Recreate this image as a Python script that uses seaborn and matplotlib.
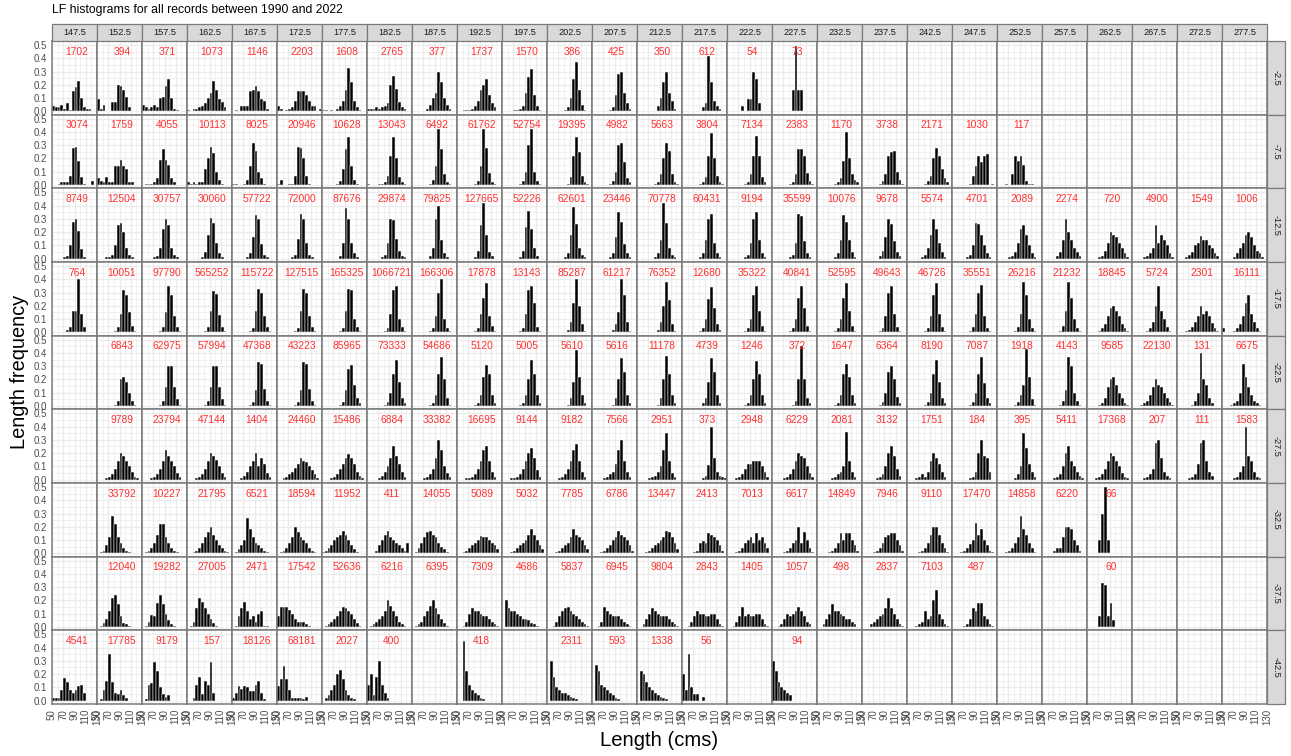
import numpy as np
import pandas as pd
import matplotlib
matplotlib.use("Agg")
import matplotlib.pyplot as plt
from matplotlib.patches import Rectangle
import seaborn as sns

# Facet layout: longitude columns, latitude rows
lon_labels = ["147.5", "152.5", "157.5", "162.5", "167.5", "172.5", "177.5", "182.5",
              "187.5", "192.5", "197.5", "202.5", "207.5", "212.5", "217.5", "222.5",
              "227.5", "232.5", "237.5", "242.5", "247.5", "252.5", "257.5", "262.5",
              "267.5", "272.5", "277.5"]
lat_labels = ["-2.5", "-7.5", "-12.5", "-17.5", "-22.5", "-27.5", "-32.5", "-37.5", "-42.5"]

# Length bins (cm): 5 cm classes from 50 to 130
bin_lo, bin_hi, bin_w = 50, 130, 5
bin_mids = np.arange(bin_lo, bin_hi, bin_w) + bin_w / 2

# Per cell: (number of records, relative frequency per length class in hundredths)
lf_m2_5 = {
    "147.5": (1702, "4 3 3 5 2 6 1 15 18 23 10 3 2 2 0 0"),
    "152.5": (394, "9 2 5 0 0 7 7 20 19 16 11 3 0 0 0 0"),
    "157.5": (371, "5 3 2 3 5 3 10 11 19 24 10 2 1 0 0 0"),
    "162.5": (1073, "1 0 2 2 3 4 6 10 14 23 16 9 7 3 0 0"),
    "167.5": (1146, "0 1 0 4 4 4 15 16 19 15 9 8 2 0 0 0"),
    "172.5": (2203, "4 2 0 1 2 3 8 15 15 15 12 8 4 4 0 2"),
    "177.5": (1608, "1 1 0 1 0 2 4 8 16 33 22 8 3 1 0 0"),
    "182.5": (2765, "2 2 2 3 2 3 4 6 20 27 17 7 3 2 0 0"),
    "187.5": (377, "0 0 0 0 0 2 5 10 14 30 22 10 5 2 0 0"),
    "192.5": (1737, "0 0 1 1 1 2 4 8 16 20 24 12 6 3 0 0"),
    "197.5": (1570, "0 0 0 0 1 1 2 4 14 26 32 12 4 1 0 0"),
    "202.5": (386, "0 0 0 0 0 0 1 3 10 24 37 16 5 1 0 0"),
    "207.5": (425, "0 0 0 0 0 0 1 3 12 28 30 14 6 2 0 0"),
    "212.5": (350, "0 0 0 0 0 0 0 4 10 22 30 14 8 2 0 0"),
    "217.5": (612, "0 0 0 0 0 0 0 3 6 42 22 8 4 2 0 0"),
    "222.5": (54, "0 0 0 0 0 4 0 9 9 30 24 6 0 0 0 0"),
    "227.5": (73, "0 0 0 0 0 0 0 16 49 16 16 0 0 0 0 0"),
}
lf_m7_5 = {
    "147.5": (3074, "0 0 1 2 2 2 7 28 29 18 6 1 0 0 3 0"),
    "152.5": (1759, "5 3 2 6 2 2 14 14 19 14 12 2 2 0 0 0"),
    "157.5": (4055, "0 1 1 1 2 5 19 27 19 15 5 2 0 0 0 0"),
    "162.5": (10113, "2 1 2 1 2 2 12 20 29 24 10 4 1 0 0 0"),
    "167.5": (8025, "1 1 0 0 1 4 14 32 26 10 5 1 0 0 0 0"),
    "172.5": (20946, "1 4 0 0 1 1 7 29 28 20 7 1 0 0 0 0"),
    "177.5": (10628, "0 0 0 0 0 1 3 12 27 36 14 4 1 0 0 0"),
    "182.5": (13043, "1 0 0 0 1 1 2 7 22 36 20 6 2 1 0 0"),
    "187.5": (6492, "0 0 0 0 0 0 1 4 14 42 27 8 2 1 0 0"),
    "192.5": (61762, "0 0 0 0 0 0 1 3 14 42 28 9 2 1 0 0"),
    "197.5": (52754, "0 0 0 0 0 0 1 3 10 30 42 10 3 1 0 0"),
    "202.5": (19395, "0 0 0 0 0 0 0 1 6 22 36 25 7 2 1 0"),
    "207.5": (4982, "0 0 0 0 0 0 1 3 10 30 32 17 5 2 0 0"),
    "212.5": (5663, "0 0 0 0 0 0 1 2 8 20 32 26 8 2 1 0"),
    "217.5": (3804, "0 0 0 0 0 0 1 2 6 22 39 20 7 2 1 0"),
    "222.5": (7134, "0 0 0 0 0 0 1 2 8 22 37 22 6 2 0 0"),
    "227.5": (2383, "0 0 0 0 0 0 1 2 8 27 27 22 9 3 1 0"),
    "232.5": (1170, "0 0 0 0 0 0 1 2 5 18 40 20 8 4 2 0"),
    "237.5": (3738, "0 0 0 0 0 0 1 3 8 22 25 26 10 4 1 0"),
    "242.5": (2171, "0 0 0 0 0 0 1 3 7 20 28 22 12 5 2 0"),
    "247.5": (1030, "0 0 0 0 0 0 1 7 14 22 17 22 23 0 1 0"),
    "252.5": (117, "0 0 0 1 0 8 22 18 22 15 3 1 1 0 0 0"),
}
lf_m12_5 = {
    "147.5": (8749, "0 0 0 0 1 2 10 28 30 21 7 1 0 0 0 0"),
    "152.5": (12504, "0 0 0 1 1 3 10 25 27 20 8 3 1 0 0 0"),
    "157.5": (30757, "0 0 0 0 1 2 8 22 30 25 8 3 1 0 0 0"),
    "162.5": (30060, "0 0 0 0 0 1 5 18 31 27 12 4 1 0 0 0"),
    "167.5": (57722, "0 0 0 0 0 1 4 16 33 30 11 3 1 0 0 0"),
    "172.5": (72000, "0 0 0 0 0 1 3 15 34 30 12 3 1 0 0 0"),
    "177.5": (87676, "0 0 0 0 0 0 2 12 38 30 12 4 1 0 0 0"),
    "182.5": (29874, "0 0 0 0 0 1 3 12 30 29 15 6 2 1 0 0"),
    "187.5": (79825, "0 0 0 0 0 0 2 8 30 40 14 4 1 0 0 0"),
    "192.5": (127665, "0 0 0 0 0 0 1 6 25 42 18 5 2 0 0 0"),
    "197.5": (52226, "0 0 0 0 0 0 1 6 24 36 22 8 2 0 0 0"),
    "202.5": (62601, "0 0 0 0 0 0 1 4 18 39 26 8 3 1 0 0"),
    "207.5": (23446, "0 0 0 0 0 0 1 4 16 35 28 11 4 1 0 0"),
    "212.5": (70778, "0 0 0 0 0 0 1 4 14 42 27 8 3 1 0 0"),
    "217.5": (60431, "0 0 0 0 0 0 1 4 14 30 34 12 4 1 0 0"),
    "222.5": (9194, "0 0 0 0 0 0 1 3 12 30 35 14 4 1 0 0"),
    "227.5": (35599, "0 0 0 0 0 0 1 3 12 34 32 13 4 1 0 0"),
    "232.5": (10076, "0 0 0 0 0 0 1 4 14 33 28 14 5 1 0 0"),
    "237.5": (9678, "0 0 0 0 0 0 2 6 16 30 26 13 5 2 0 0"),
    "242.5": (5574, "0 0 0 0 0 1 3 8 18 30 22 12 5 1 0 0"),
    "247.5": (4701, "0 0 0 0 0 1 3 10 27 26 18 10 4 1 0 0"),
    "252.5": (2089, "0 0 0 0 1 2 5 12 22 25 18 10 4 1 0 0"),
    "257.5": (2274, "0 0 0 0 0 2 5 14 30 20 14 8 5 2 0 0"),
    "262.5": (720, "0 0 0 0 1 2 6 12 20 18 16 12 8 4 1 0"),
    "267.5": (4900, "0 0 0 0 1 2 4 8 25 12 18 14 10 4 1 0"),
    "272.5": (1549, "0 0 0 1 3 5 10 12 17 14 14 10 8 4 2 0"),
    "277.5": (1006, "0 0 0 0 1 4 8 12 18 20 16 10 6 4 1 0"),
}
lf_m17_5 = {
    "147.5": (764, "0 0 0 0 0 2 4 16 16 40 14 4 0 0 0 0"),
    "152.5": (10051, "0 0 0 0 0 0 1 4 14 32 28 15 5 1 0 0"),
    "157.5": (97790, "0 0 0 0 0 0 1 4 15 35 28 12 4 1 0 0"),
    "162.5": (565252, "0 0 0 0 0 0 1 4 16 31 29 13 4 1 0 0"),
    "167.5": (115722, "0 0 0 0 0 0 1 3 16 33 30 12 4 1 0 0"),
    "172.5": (127515, "0 0 0 0 0 0 1 3 16 33 30 12 4 1 0 0"),
    "177.5": (165325, "0 0 0 0 0 0 1 3 16 33 32 10 4 1 0 0"),
    "182.5": (1066721, "0 0 0 0 0 0 1 3 14 32 35 10 4 1 0 0"),
    "187.5": (166306, "0 0 0 0 0 0 1 3 12 30 40 10 3 1 0 0"),
    "192.5": (17878, "0 0 0 0 0 0 1 3 14 26 37 12 5 1 0 0"),
    "197.5": (13143, "0 0 0 0 0 0 1 3 14 32 35 22 4 1 0 0"),
    "202.5": (85287, "0 0 0 0 0 0 0 2 8 22 40 20 6 1 0 0"),
    "207.5": (61217, "0 0 0 0 0 0 0 2 6 15 40 28 8 1 0 0"),
    "212.5": (76352, "0 0 0 0 0 0 0 2 8 20 38 24 6 1 0 0"),
    "217.5": (12680, "0 0 0 0 0 0 1 3 10 25 34 18 6 2 0 0"),
    "222.5": (35322, "0 0 0 0 0 0 1 3 10 28 35 16 5 1 0 0"),
    "227.5": (40841, "0 0 0 0 0 0 1 3 10 26 35 18 5 1 0 0"),
    "232.5": (52595, "0 0 0 0 0 0 1 3 10 26 37 16 5 1 0 0"),
    "237.5": (49643, "0 0 0 0 0 0 1 3 12 30 35 14 4 1 0 0"),
    "242.5": (46726, "0 0 0 0 0 0 1 3 12 28 37 14 4 1 0 0"),
    "247.5": (35551, "0 0 0 0 0 0 1 4 14 30 36 12 3 1 0 0"),
    "252.5": (26216, "0 0 0 0 0 0 1 4 14 38 28 10 3 1 0 0"),
    "257.5": (21232, "0 0 0 0 0 0 1 5 16 38 26 10 3 1 0 0"),
    "262.5": (18845, "0 0 0 0 1 3 6 12 18 20 16 12 6 3 1 0"),
    "267.5": (5724, "0 0 0 0 0 1 3 8 20 35 16 10 4 1 0 0"),
    "272.5": (2301, "0 0 0 1 2 4 8 12 20 14 16 12 7 3 1 0"),
    "277.5": (16111, "3 0 0 0 1 3 6 12 22 28 14 8 3 1 0 0"),
}
lf_m22_5 = {
    "152.5": (6843, "0 0 0 0 0 0 1 4 20 22 18 10 4 1 0 0"),
    "157.5": (62975, "0 0 0 0 0 0 1 4 14 30 30 14 5 1 0 0"),
    "162.5": (57994, "0 0 0 0 0 0 1 4 14 30 30 14 5 1 0 0"),
    "167.5": (47368, "0 0 0 0 0 0 1 3 12 33 32 13 4 1 0 0"),
    "172.5": (43223, "0 0 0 0 0 0 1 3 12 33 32 13 4 1 0 0"),
    "177.5": (85965, "0 0 0 0 0 0 1 3 12 28 31 16 6 2 0 0"),
    "182.5": (73333, "0 0 0 0 0 0 1 3 10 24 35 18 6 2 0 0"),
    "187.5": (54686, "0 0 0 0 0 0 1 2 8 24 37 20 6 1 0 0"),
    "192.5": (5120, "0 0 0 0 0 0 1 2 8 22 31 24 8 2 0 0"),
    "197.5": (5005, "0 0 0 0 0 0 1 2 8 20 35 24 8 2 0 0"),
    "202.5": (5610, "0 0 0 0 0 0 0 1 6 18 42 22 8 2 0 0"),
    "207.5": (5616, "0 0 0 0 0 0 0 1 6 20 36 26 8 2 0 0"),
    "212.5": (11178, "0 0 0 0 0 0 0 1 6 20 38 24 8 2 0 0"),
    "217.5": (4739, "0 0 0 0 0 0 0 2 6 18 36 26 8 2 0 0"),
    "222.5": (1246, "0 0 0 0 0 0 1 2 8 20 34 24 8 2 0 0"),
    "227.5": (372, "0 0 0 0 0 0 0 1 4 20 45 20 6 2 0 0"),
    "232.5": (1647, "0 0 0 0 0 0 1 2 8 24 32 22 8 2 0 0"),
    "237.5": (6364, "0 0 0 0 0 0 1 3 10 26 30 20 7 2 0 0"),
    "242.5": (8190, "0 0 0 0 0 0 1 3 10 24 35 18 6 2 0 0"),
    "247.5": (7087, "0 0 0 0 0 0 1 3 10 24 37 17 6 2 0 0"),
    "252.5": (1918, "0 0 0 0 0 0 1 3 8 16 43 22 5 1 0 0"),
    "257.5": (4143, "0 0 0 0 0 0 1 4 12 37 30 10 4 1 0 0"),
    "262.5": (9585, "0 0 0 0 1 2 6 14 20 22 16 10 6 2 1 0"),
    "267.5": (22130, "0 0 0 1 2 4 8 14 20 16 14 10 6 3 1 0"),
    "272.5": (131, "0 0 0 0 0 1 4 10 40 20 16 6 2 0 0 0"),
    "277.5": (6675, "0 0 0 1 2 4 10 32 22 14 8 4 2 1 0 0"),
}
lf_m27_5 = {
    "152.5": (9789, "0 0 0 1 2 4 8 14 20 18 14 10 6 2 1 0"),
    "157.5": (23794, "0 0 0 1 2 4 8 14 22 18 14 10 5 2 0 0"),
    "162.5": (47144, "0 0 0 1 2 4 8 14 20 18 15 10 5 2 0 0"),
    "167.5": (1404, "0 0 0 1 3 6 10 14 20 10 16 12 5 2 0 0"),
    "172.5": (24460, "0 0 1 2 4 6 9 12 16 14 13 10 7 4 1 0"),
    "177.5": (15486, "0 0 0 1 2 4 8 12 16 19 16 12 6 3 1 0"),
    "182.5": (6884, "0 0 0 0 1 3 6 10 16 25 18 12 6 2 0 0"),
    "187.5": (33382, "0 0 0 0 1 2 4 8 16 30 22 10 5 2 0 0"),
    "192.5": (16695, "0 0 0 1 1 2 4 8 14 22 25 14 6 2 0 0"),
    "197.5": (9144, "0 0 0 1 1 2 4 8 14 20 24 16 7 2 0 0"),
    "202.5": (9182, "0 0 0 0 1 2 4 8 14 22 27 14 6 2 0 0"),
    "207.5": (7566, "0 0 0 0 1 2 4 6 12 22 30 14 6 2 0 0"),
    "212.5": (2951, "0 0 0 0 1 2 3 6 10 22 35 14 5 2 0 0"),
    "217.5": (373, "0 0 0 0 0 0 0 1 3 11 40 16 6 3 2 1"),
    "222.5": (2948, "0 0 0 1 2 4 8 12 12 14 14 14 10 6 2 0"),
    "227.5": (6229, "0 0 0 0 1 2 4 8 14 20 18 16 10 5 2 0"),
    "232.5": (2081, "0 0 0 0 0 1 2 4 6 10 36 14 6 2 0 0"),
    "237.5": (3132, "0 0 0 0 0 1 2 4 10 20 25 18 8 3 0 0"),
    "242.5": (1751, "0 0 0 1 2 4 2 6 14 20 16 12 6 2 0 0"),
    "247.5": (184, "0 0 0 0 0 0 1 2 6 20 30 18 16 6 0 0"),
    "252.5": (395, "0 0 0 0 0 0 1 4 10 35 24 12 6 2 0 0"),
    "257.5": (5411, "0 0 0 0 1 2 4 10 20 25 14 10 6 3 1 0"),
    "262.5": (17368, "0 0 0 1 2 4 8 14 20 18 14 10 5 2 1 0"),
    "267.5": (207, "0 0 0 0 1 2 4 8 28 30 16 6 3 1 0 0"),
    "272.5": (111, "0 0 0 0 1 2 4 12 28 30 14 6 3 0 0 0"),
    "277.5": (1583, "0 0 0 0 1 2 6 10 40 18 14 6 2 1 0 0"),
}
lf_m32_5 = {
    "152.5": (33792, "0 1 2 6 12 28 22 12 8 4 2 1 0 0 0 0"),
    "157.5": (10227, "0 1 2 4 8 14 22 22 12 8 4 2 1 0 0 0"),
    "162.5": (21795, "0 0 1 2 4 8 12 16 20 14 10 6 4 2 1 0"),
    "167.5": (6521, "0 1 3 6 10 27 18 12 8 6 4 2 1 0 0 0"),
    "172.5": (18594, "0 1 2 4 8 12 20 16 12 10 8 4 2 1 0 0"),
    "177.5": (11952, "1 2 4 6 10 12 14 17 14 10 6 3 1 0 0 0"),
    "182.5": (411, "0 0 0 2 6 10 14 17 12 10 8 6 4 2 8 0"),
    "187.5": (14055, "0 1 4 8 12 16 17 14 12 8 5 3 1 0 0 0"),
    "192.5": (5089, "0 0 1 2 4 6 8 10 13 12 12 10 8 6 3 0"),
    "197.5": (5032, "0 0 0 1 2 4 6 8 10 14 18 14 10 6 3 0"),
    "202.5": (7785, "0 0 0 1 2 4 6 8 12 18 14 12 10 6 3 0"),
    "207.5": (6786, "0 0 0 1 2 4 6 10 12 17 14 12 10 6 2 0"),
    "212.5": (13447, "0 0 0 1 2 4 6 8 10 12 17 16 12 8 3 0"),
    "217.5": (2413, "0 0 0 0 1 2 8 9 8 15 14 12 10 6 2 0"),
    "222.5": (7013, "0 0 0 1 2 4 8 10 12 8 15 10 12 8 4 0"),
    "227.5": (6617, "0 0 0 0 1 2 4 8 10 20 8 16 10 4 1 0"),
    "232.5": (14849, "0 0 0 0 1 2 4 8 15 10 15 15 10 6 2 0"),
    "237.5": (7946, "0 0 0 0 1 2 4 8 12 14 15 15 10 6 2 0"),
    "242.5": (9110, "0 0 0 0 1 2 4 8 14 20 20 14 8 4 1 0"),
    "247.5": (17470, "0 0 0 1 2 4 7 10 23 14 18 10 6 2 1 0"),
    "252.5": (14858, "0 0 0 1 2 4 8 12 28 18 14 8 4 1 0 0"),
    "257.5": (6220, "0 0 0 0 2 4 4 12 20 20 18 10 6 2 0 0"),
    "262.5": (66, "0 0 0 0 10 30 50 10 0 0 0 0 0 0 0 0"),
}
lf_m37_5 = {
    "152.5": (12040, "0 1 3 6 12 22 24 17 8 3 2 1 0 0 0 0"),
    "157.5": (19282, "0 1 4 9 8 18 24 17 10 5 2 1 0 0 0 0"),
    "162.5": (27005, "0 1 4 14 22 19 14 10 6 3 1 0 0 0 0 0"),
    "167.5": (2471, "0 1 8 14 19 12 6 8 4 10 12 1 1 0 0 0"),
    "172.5": (17542, "8 15 15 15 13 10 6 4 4 4 2 1 0 0 0 0"),
    "177.5": (52636, "0 1 2 4 6 8 12 15 14 12 10 6 3 1 0 0"),
    "182.5": (6216, "0 1 2 4 6 8 12 20 16 12 8 4 2 1 0 0"),
    "187.5": (6395, "0 1 2 4 8 12 16 20 14 10 6 3 1 0 0 0"),
    "192.5": (7309, "0 0 1 4 10 14 12 12 10 8 8 6 4 2 1 0"),
    "197.5": (4686, "0 20 14 12 12 10 8 6 6 5 3 2 1 0 0 0"),
    "202.5": (5837, "0 0 1 4 8 12 14 15 12 10 8 6 4 2 1 0"),
    "207.5": (6945, "0 0 1 4 15 12 10 8 8 8 6 4 2 1 0 0"),
    "212.5": (9804, "0 0 2 6 10 14 12 10 8 8 8 6 4 2 1 0"),
    "217.5": (2843, "0 0 1 4 8 12 10 10 8 8 10 10 6 2 1 0"),
    "222.5": (1405, "0 0 1 4 8 15 8 10 8 8 10 10 6 2 1 0"),
    "227.5": (1057, "0 0 1 2 6 10 8 10 12 15 12 8 4 2 0 0"),
    "232.5": (498, "0 0 2 6 10 17 12 12 10 8 6 6 4 2 0 0"),
    "237.5": (2837, "0 0 0 2 4 6 8 10 14 22 14 10 6 2 1 0"),
    "242.5": (7103, "0 0 0 1 2 4 12 6 8 20 28 10 6 2 1 0"),
    "247.5": (487, "0 0 0 0 1 2 6 14 12 18 18 8 6 2 1 0"),
    "262.5": (60, "0 0 0 0 8 33 32 8 18 5 0 0 0 0 0 0"),
}
lf_m42_5 = {
    "147.5": (4541, "2 2 2 8 17 14 8 6 8 11 12 6 0 0 0 0"),
    "152.5": (17785, "0 1 8 15 35 14 6 5 8 4 2 0 0 0 0 0"),
    "157.5": (9179, "0 1 12 13 29 22 10 5 3 4 0 0 0 0 0 0"),
    "162.5": (157, "0 0 2 12 18 5 15 12 29 6 0 0 0 0 0 0"),
    "167.5": (18126, "2 6 11 9 11 10 7 7 12 15 6 1 0 0 0 0"),
    "172.5": (68181, "11 16 26 16 8 2 2 2 2 1 3 0 0 0 0 0"),
    "177.5": (2027, "0 2 4 8 12 20 23 16 8 4 2 1 0 0 0 0"),
    "182.5": (400, "12 20 4 18 30 12 6 2 0 0 0 0 0 0 0 0"),
    "192.5": (418, "0 0 45 22 12 8 6 4 2 1 0 0 0 0 0 0"),
    "202.5": (2311, "0 30 18 10 8 6 6 4 3 2 1 0 0 0 0 0"),
    "207.5": (593, "0 27 22 12 10 8 6 4 2 1 0 0 0 0 0 0"),
    "212.5": (1338, "0 22 20 14 10 8 6 4 3 2 1 0 0 0 0 0"),
    "217.5": (56, "20 8 35 10 5 5 0 3 0 0 0 0 0 0 0 0"),
    "227.5": (94, "30 22 14 10 8 6 4 0 0 0 0 0 0 0 0 0"),
}
lf_rows = [lf_m2_5, lf_m7_5, lf_m12_5, lf_m17_5, lf_m22_5,
           lf_m27_5, lf_m32_5, lf_m37_5, lf_m42_5]

title_text = "LF histograms for all records between 1990 and 2022"
x_title = "Length (cms)"
y_title = "Length frequency"
x_ticks = [50, 70, 90, 110, 130]
y_ticks = [0.0, 0.1, 0.2, 0.3, 0.4, 0.5]

sns.set_style("white")
plt.rcParams["font.family"] = ["Liberation Sans", "DejaVu Sans"]

W, H = 1291, 756
fig = plt.figure(figsize=(W / 100, H / 100), dpi=100)

# panel grid in pixel units
px0, px1 = 52, 1267
py0, py1 = 41, 704
ncol, nrow = len(lon_labels), len(lat_labels)
cw = (px1 - px0) / ncol
rh = (py1 - py0) / nrow

grid_col = "#EBEBEB"
frame_col = "#7A7A7A"
strip_fill = "#D9D9D9"
tick_col = "#4D4D4D"


def fig_rect(x, y, w, h):
    """pixel box (top-left origin) -> figure fraction rect"""
    return [x / W, 1 - (y + h) / H, w / W, h / H]


for r, lat in enumerate(lat_labels):
    row_data = lf_rows[r]
    for c, lon in enumerate(lon_labels):
        ax = fig.add_axes(fig_rect(px0 + c * cw, py0 + r * rh, cw, rh))
        ax.set_axisbelow(True)
        if lon in row_data:
            n, freq_str = row_data[lon]
            cell = pd.DataFrame({
                "length": bin_mids,
                "freq": [float(v) / 100.0 for v in freq_str.split()],
            })
            sns.histplot(data=cell, x="length", weights="freq",
                         binwidth=bin_w, binrange=(bin_lo, bin_hi), stat="count",
                         color="black", edgecolor="white", linewidth=0.35,
                         alpha=1.0, ax=ax)
            ax.text(94, 0.45, str(n), color="#FF3030", fontsize=7.4,
                    ha="center", va="center")
        ax.set_xlim(50, 130)
        ax.set_ylim(-0.026, 0.531)
        ax.set_xticks(x_ticks)
        ax.set_xticks([60, 80, 100, 120], minor=True)
        ax.set_yticks(y_ticks)
        ax.set_yticks([0.05, 0.15, 0.25, 0.35, 0.45], minor=True)
        ax.grid(True, which="major", color=grid_col, linewidth=0.9)
        ax.grid(True, which="minor", color=grid_col, linewidth=0.5)
        ax.set_xlabel("")
        ax.set_ylabel("")
        for sp in ax.spines.values():
            sp.set_color(frame_col)
            sp.set_linewidth(1.1)
        ax.tick_params(which="minor", length=0)
        ax.tick_params(which="major", length=2.5, width=0.6, color="#333333",
                       labelcolor=tick_col, labelsize=7, pad=1)
        if r == nrow - 1:
            ax.set_xticklabels([str(t) for t in x_ticks], rotation=90)
        else:
            ax.tick_params(axis="x", length=0, labelbottom=False)
        if c == 0:
            ax.set_yticklabels([f"{t:.1f}" for t in y_ticks])
        else:
            ax.tick_params(axis="y", length=0, labelleft=False)

# column strips
for c, lon in enumerate(lon_labels):
    x = px0 + c * cw
    fig.patches.append(Rectangle((x / W, 1 - 41 / H), cw / W, 17 / H,
                                 transform=fig.transFigure, facecolor=strip_fill,
                                 edgecolor=frame_col, linewidth=0.9))
    fig.text((x + cw / 2) / W, 1 - 32.5 / H, lon, ha="center", va="center",
             fontsize=6.6, color="#1A1A1A")

# row strips
for r, lat in enumerate(lat_labels):
    y = py0 + r * rh
    fig.patches.append(Rectangle((px1 / W, 1 - (y + rh) / H), 18 / W, rh / H,
                                 transform=fig.transFigure, facecolor=strip_fill,
                                 edgecolor=frame_col, linewidth=0.9))
    fig.text((px1 + 9) / W, 1 - (y + rh / 2) / H, lat, ha="center", va="center",
             rotation=270, fontsize=6.6, color="#1A1A1A")

fig.text(px0 / W, 1 - 10 / H, title_text, ha="left", va="center",
         fontsize=8.8, color="black")
fig.text((px0 + px1) / 2 / W, 1 - 741 / H, x_title, ha="center", va="center",
         fontsize=14.6, color="black")
fig.text(20 / W, 1 - 372 / H, y_title, ha="center", va="center",
         rotation=90, fontsize=14.4, color="black")

fig.savefig("out.png", dpi=100)
